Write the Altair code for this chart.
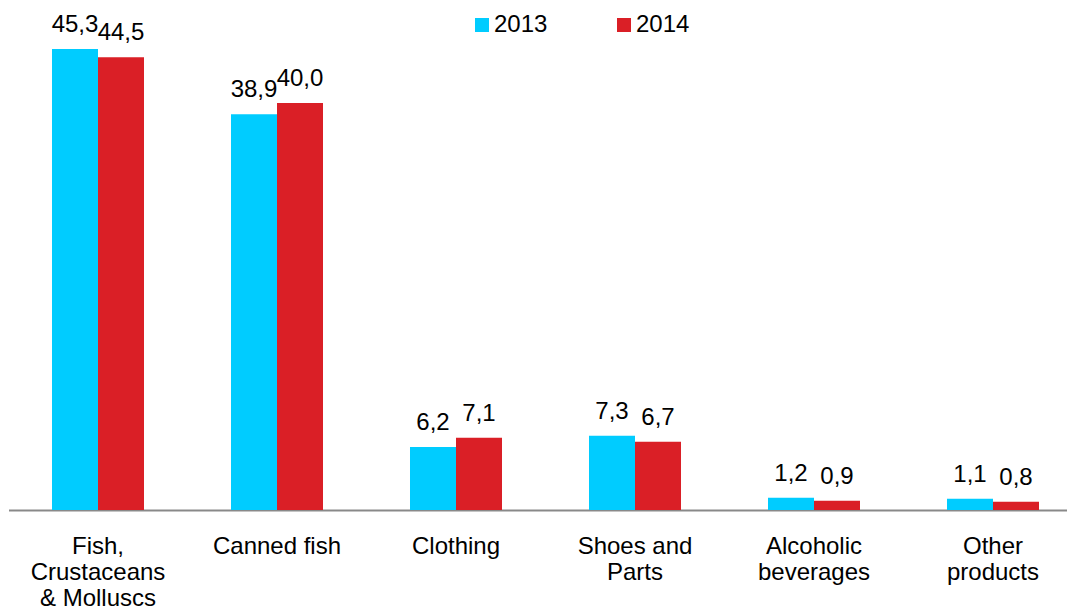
import altair as alt
import pandas as pd

categories = ["Fish,\nCrustaceans\n& Molluscs", "Canned fish", "Clothing",
              "Shoes and\nParts", "Alcoholic\nbeverages", "Other\nproducts"]
years = ["2013", "2014"]
values_2013 = [45.3, 38.9, 6.2, 7.3, 1.2, 1.1]
values_2014 = [44.5, 40.0, 7.1, 6.7, 0.9, 0.8]
colors = ["#00CCFF", "#DA1F26"]

rows = []
for c, a, b in zip(categories, values_2013, values_2014):
    rows.append({"cat": c, "year": "2013", "v": a})
    rows.append({"cat": c, "year": "2014", "v": b})
df = pd.DataFrame(rows)

FONT = "Liberation Sans"

x = alt.X("cat:N", sort=categories, title=None,
          scale=alt.Scale(range=[0.5, 1074.5], paddingInner=0.486, paddingOuter=0.243),
          axis=alt.Axis(labelAngle=0, ticks=False, tickSize=0, domainColor="#898989",
                        domainWidth=2, labelFont=FONT, labelFontSize=24,
                        labelColor="#000000", labelLineHeight=26, labelPadding=24,
                        labelExpr="split(datum.label, '\\n')"))
xo = alt.XOffset("year:N", sort=years, scale=alt.Scale(paddingInner=0, paddingOuter=0))
y = alt.Y("v:Q", scale=alt.Scale(domain=[0, 49.33], nice=False, zero=True), axis=None)

base = alt.Chart(df)

bars = base.mark_bar().encode(
    x=x, xOffset=xo, y=y,
    color=alt.Color("year:N", sort=years,
                    scale=alt.Scale(domain=years, range=colors),
                    legend=alt.Legend(title=None, orient="none", legendX=462, legendY=5,
                                      direction="horizontal", symbolType="square",
                                      symbolSize=196, symbolStrokeWidth=0,
                                      labelFont=FONT, labelFontSize=24, labelColor="#000000",
                                      labelOffset=0, columnPadding=64)),
)

labels = base.transform_calculate(
    lab="replace(format(datum.v, '.1f'), '.', ',')"
).mark_text(font=FONT, fontSize=24, color="#000000", baseline="alphabetic", dy=-17).encode(
    x=x, xOffset=xo, y=y, text="lab:N"
)

chart = alt.layer(bars, labels).properties(
    width=1059, height=502,
    autosize=alt.AutoSizeParams(type="none"),
    padding={"left": 0, "top": 0, "right": 0, "bottom": 110},
).configure_view(stroke=None)

chart.save("out.html", embed_options={"renderer": "svg", "actions": False})
